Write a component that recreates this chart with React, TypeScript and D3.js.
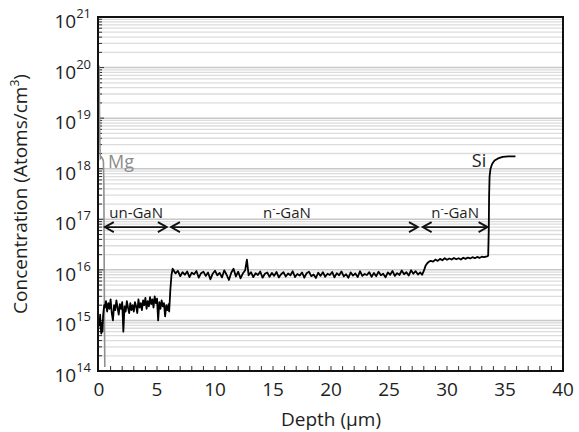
import React from 'react';
import * as d3 from 'd3';

const xTickValues = [0, 5, 10, 15, 20, 25, 30, 35, 40];
const yExponents = [14, 15, 16, 17, 18, 19, 20, 21];

// Si (black) SIMS profile: [depth µm, concentration atoms/cm3]
const siProfile: [number, number][] = [
  [0.0, 1.1e15], [0.05, 8e14], [0.1, 1.3e15], [0.15, 7e14], [0.2, 5.5e14], [0.25, 9e14], [0.3, 6e14],
  [0.35, 1.2e15], [0.4, 1.6e15], [0.45, 2.0e15],
  [0.5, 1.8e15], [0.6, 2.4e15], [0.7, 1.5e15], [0.8, 2.2e15], [0.9, 1.7e15], [1.0, 2.6e15], [1.1, 1.4e15],
  [1.2, 1.0e15], [1.3, 2.0e15], [1.4, 1.6e15], [1.5, 2.5e15], [1.6, 1.8e15], [1.7, 1.3e15], [1.8, 2.1e15],
  [1.9, 1.7e15], [2.0, 2.3e15], [2.1, 6e14], [2.2, 1.9e15], [2.3, 1.5e15], [2.4, 2.4e15], [2.5, 1.8e15],
  [2.6, 1.4e15], [2.7, 2.2e15], [2.8, 1.6e15], [2.9, 2.0e15], [3.0, 1.5e15], [3.1, 2.3e15], [3.2, 1.9e15],
  [3.3, 1.4e15], [3.4, 2.6e15], [3.5, 1.8e15], [3.6, 2.2e15], [3.7, 1.6e15], [3.8, 2.5e15], [3.9, 2.0e15],
  [4.0, 2.8e15], [4.1, 1.7e15], [4.2, 2.4e15], [4.3, 1.9e15], [4.4, 2.9e15], [4.5, 2.1e15], [4.6, 2.6e15],
  [4.7, 1.8e15], [4.8, 3.0e15], [4.9, 2.2e15], [5.0, 2.7e15], [5.1, 1.0e15], [5.2, 2.3e15], [5.3, 1.7e15],
  [5.4, 2.5e15], [5.5, 1.9e15], [5.6, 2.2e15], [5.7, 1.2e15], [5.8, 2.0e15], [5.9, 1.6e15], [6.0, 2.1e15],
  [6.05, 1.5e15], [6.15, 4e15], [6.25, 8e15], [6.35, 1.05e16],
  [6.4, 1.0e16], [6.6, 8.5e15], [6.8, 9.5e15], [7.0, 7.5e15], [7.2, 9.0e15], [7.4, 8.0e15], [7.6, 9.3e15],
  [7.8, 7.2e15], [8.0, 8.8e15], [8.2, 8.2e15], [8.4, 9.5e15], [8.6, 7.0e15], [8.8, 8.6e15], [9.0, 9.2e15],
  [9.2, 7.6e15], [9.4, 8.9e15], [9.6, 6.5e15], [9.8, 8.4e15], [10.0, 9.6e15], [10.2, 7.8e15], [10.4, 8.7e15],
  [10.6, 7.1e15], [10.8, 9.8e15], [11.0, 8.0e15], [11.2, 6.3e15], [11.4, 8.8e15], [11.6, 1.05e16],
  [11.8, 7.4e15], [12.0, 9.2e15], [12.2, 6.8e15], [12.4, 8.5e15], [12.6, 9.8e15], [12.75, 1.6e16],
  [12.9, 7.8e15], [13.1, 9.0e15], [13.3, 7.2e15], [13.5, 8.6e15], [13.7, 7.9e15], [13.9, 9.3e15],
  [14.1, 7.0e15], [14.3, 8.4e15], [14.5, 8.9e15], [14.7, 7.3e15], [14.9, 8.7e15], [15.1, 7.6e15],
  [15.3, 9.1e15], [15.5, 7.1e15], [15.7, 8.2e15], [15.9, 9.0e15], [16.1, 7.4e15], [16.3, 8.5e15],
  [16.5, 7.8e15], [16.7, 9.4e15], [16.9, 7.2e15], [17.1, 8.3e15], [17.3, 7.7e15], [17.5, 8.9e15],
  [17.7, 7.0e15], [17.9, 8.6e15], [18.1, 9.2e15], [18.3, 7.5e15], [18.5, 8.1e15], [18.7, 6.9e15],
  [18.9, 8.8e15], [19.1, 7.6e15], [19.3, 9.0e15], [19.5, 7.3e15], [19.7, 8.4e15], [19.9, 7.9e15],
  [20.1, 9.1e15], [20.3, 7.1e15], [20.5, 8.6e15], [20.7, 7.8e15], [20.9, 9.3e15], [21.1, 7.4e15],
  [21.3, 8.2e15], [21.5, 7.0e15], [21.7, 8.9e15], [21.9, 7.7e15], [22.1, 8.5e15], [22.3, 7.2e15],
  [22.5, 9.4e15], [22.7, 7.6e15], [22.9, 8.3e15], [23.1, 7.9e15], [23.3, 9.0e15], [23.5, 7.3e15],
  [23.7, 8.7e15], [23.9, 7.5e15], [24.1, 9.2e15], [24.3, 7.8e15], [24.5, 8.4e15], [24.7, 7.1e15],
  [24.9, 8.9e15], [25.1, 8.0e15], [25.3, 9.5e15], [25.5, 7.6e15], [25.7, 8.6e15], [25.9, 7.9e15],
  [26.1, 9.7e15], [26.3, 8.2e15], [26.5, 9.0e15], [26.7, 7.7e15], [26.9, 9.8e15], [27.1, 8.4e15],
  [27.3, 9.4e15], [27.5, 8.1e15], [27.7, 8.9e15], [27.85, 8.0e15],
  [28.0, 9.5e15], [28.15, 1.2e16], [28.3, 1.35e16], [28.45, 1.45e16], [28.6, 1.5e16], [28.8, 1.45e16],
  [29.0, 1.6e16], [29.2, 1.5e16], [29.4, 1.65e16], [29.6, 1.55e16], [29.8, 1.7e16], [30.0, 1.58e16],
  [30.2, 1.68e16], [30.4, 1.6e16], [30.6, 1.72e16], [30.8, 1.62e16], [31.0, 1.7e16], [31.2, 1.6e16],
  [31.4, 1.74e16], [31.6, 1.65e16], [31.8, 1.75e16], [32.0, 1.68e16], [32.2, 1.78e16], [32.4, 1.7e16],
  [32.6, 1.8e16], [32.8, 1.72e16], [33.0, 1.82e16], [33.2, 1.78e16], [33.45, 1.85e16], [33.55, 1.9e16],
  [33.6, 6e16], [33.63, 3e17], [33.67, 7e17], [33.75, 1.0e18], [33.9, 1.25e18], [34.1, 1.45e18],
  [34.4, 1.6e18], [34.8, 1.72e18], [35.3, 1.75e18], [35.9, 1.76e18],
];

// Mg (gray) profile
const mgProfile: [number, number][] = [
  [0.0, 1.1e20], [0.04, 1.5e19], [0.08, 2.5e18], [0.12, 1.6e18], [0.2, 1.7e18], [0.3, 1.6e18],
  [0.38, 1.4e18], [0.42, 5e17], [0.45, 1e16], [0.47, 1e15], [0.5, 1.2e14],
];

const layerLabels = ['un-GaN', 'n-GaN', 'n-GaN'];
const layerMinus = [false, true, true];
const layerFrom = [0.5, 6.2, 27.9];
const layerTo = [5.85, 27.5, 33.5];
const layerLabelAt = [3.2, 16.2, 30.7];
const layerLevel = 7e16;

const FONT = "'Open Sans', 'DejaVu Sans', sans-serif";
const TEXT = '#1e1e1e';

export default function App() {
  const W = 579, H = 432;
  const x = d3.scaleLinear().domain([0, 40]).range([99, 563]);
  const y = d3.scaleLog().domain([1e14, 1e21]).range([371, 17]);

  const line = d3.line<[number, number]>().x(d => x(d[0])).y(d => y(d[1]));

  const minor: number[] = [];
  for (let e = 14; e < 21; e++) for (let m = 2; m <= 9; m++) minor.push(m * Math.pow(10, e));
  const xMinor = d3.range(1, 40);

  const arrowY = y(layerLevel);
  const arrowHead = (tipX: number, dir: number) =>
    `M${tipX + dir * 9},${arrowY - 5} L${tipX},${arrowY} L${tipX + dir * 9},${arrowY + 5}`;

  return (
    <svg width={W} height={H} style={{ position: 'absolute', left: 0, top: 0, background: '#fff' }}
      fontFamily={FONT}>
      <defs>
        <clipPath id="plotClip">
          <rect x={98} y={17} width={465} height={354} />
        </clipPath>
      </defs>
      {/* grid */}
      {minor.map((v, i) => (
        <line key={'mg' + i} x1={99} x2={563} y1={y(v)} y2={y(v)} stroke="#dcdcdc" strokeWidth={1.3} />
      ))}
      {yExponents.slice(1, -1).map(e => (
        <line key={'Mg' + e} x1={99} x2={563} y1={y(Math.pow(10, e))} y2={y(Math.pow(10, e))} stroke="#c8c8c8" strokeWidth={1.5} />
      ))}
      {/* ticks */}
      {minor.map((v, i) => (
        <line key={'yt' + i} x1={98} x2={102} y1={y(v)} y2={y(v)} stroke="#333" strokeWidth={1} />
      ))}
      {yExponents.map(e => (
        <line key={'yM' + e} x1={98} x2={104} y1={y(Math.pow(10, e))} y2={y(Math.pow(10, e))} stroke="#333" strokeWidth={1} />
      ))}
      {xMinor.map(v => (
        <line key={'xt' + v} x1={x(v)} x2={x(v)} y1={371} y2={366} stroke="#333" strokeWidth={1} />
      ))}
      {/* data */}
      <g clipPath="url(#plotClip)">
        <path d={line(mgProfile) || ''} fill="none" stroke="#8f8f8f" strokeWidth={1.6} />
        <path d={line(siProfile) || ''} fill="none" stroke="#000" strokeWidth={1.8} strokeLinejoin="round" />
      </g>
      {/* frame */}
      <rect x={98} y={17} width={465} height={354} fill="none" stroke="#111" strokeWidth={2} />
      {/* layer arrows */}
      {layerLabels.map((lab, i) => {
        const a = x(layerFrom[i]), b = x(layerTo[i]);
        return (
          <g key={'layer' + i}>
            <line x1={a} x2={b} y1={arrowY} y2={arrowY} stroke="#111" strokeWidth={1.8} />
            <path d={arrowHead(a, 1)} fill="none" stroke="#111" strokeWidth={1.8} />
            <path d={arrowHead(b, -1)} fill="none" stroke="#111" strokeWidth={1.8} />
            <text x={x(layerLabelAt[i])} y={218} textAnchor="middle" fontSize={15} fill={TEXT}>
              {layerMinus[i] ? (
                <>
                  <tspan>n</tspan>
                  <tspan fontSize={10} dy={-6}>-</tspan>
                  <tspan dy={6}>{lab.slice(1)}</tspan>
                </>
              ) : lab}
            </text>
          </g>
        );
      })}
      {/* element labels */}
      <text x={479} y={167} textAnchor="middle" fontSize={18} fill={TEXT}>Si</text>
      <text x={108} y={168} fontSize={18} fill="#8c8c8c">Mg</text>
      {/* y tick labels */}
      {yExponents.map(e => (
        <text key={'yl' + e} x={91} y={y(Math.pow(10, e)) + 11} textAnchor="end" fontSize={19} fill={TEXT}>
          <tspan>10</tspan>
          <tspan fontSize={13} dy={-10}>{e}</tspan>
        </text>
      ))}
      {/* x tick labels */}
      {xTickValues.map(v => (
        <text key={'xl' + v} x={x(v)} y={396} textAnchor="middle" fontSize={19} fill={TEXT}>{v}</text>
      ))}
      {/* axis titles */}
      <text x={331} y={426} textAnchor="middle" fontSize={19} fill={TEXT}>Depth (µm)</text>
      <text transform={`translate(27,194) rotate(-90)`} textAnchor="middle" fontSize={19} fill={TEXT}>
        Concentration (Atoms/cm<tspan fontSize={12} dy={-8}>3</tspan><tspan dy={8}>)</tspan>
      </text>
    </svg>
  );
}
